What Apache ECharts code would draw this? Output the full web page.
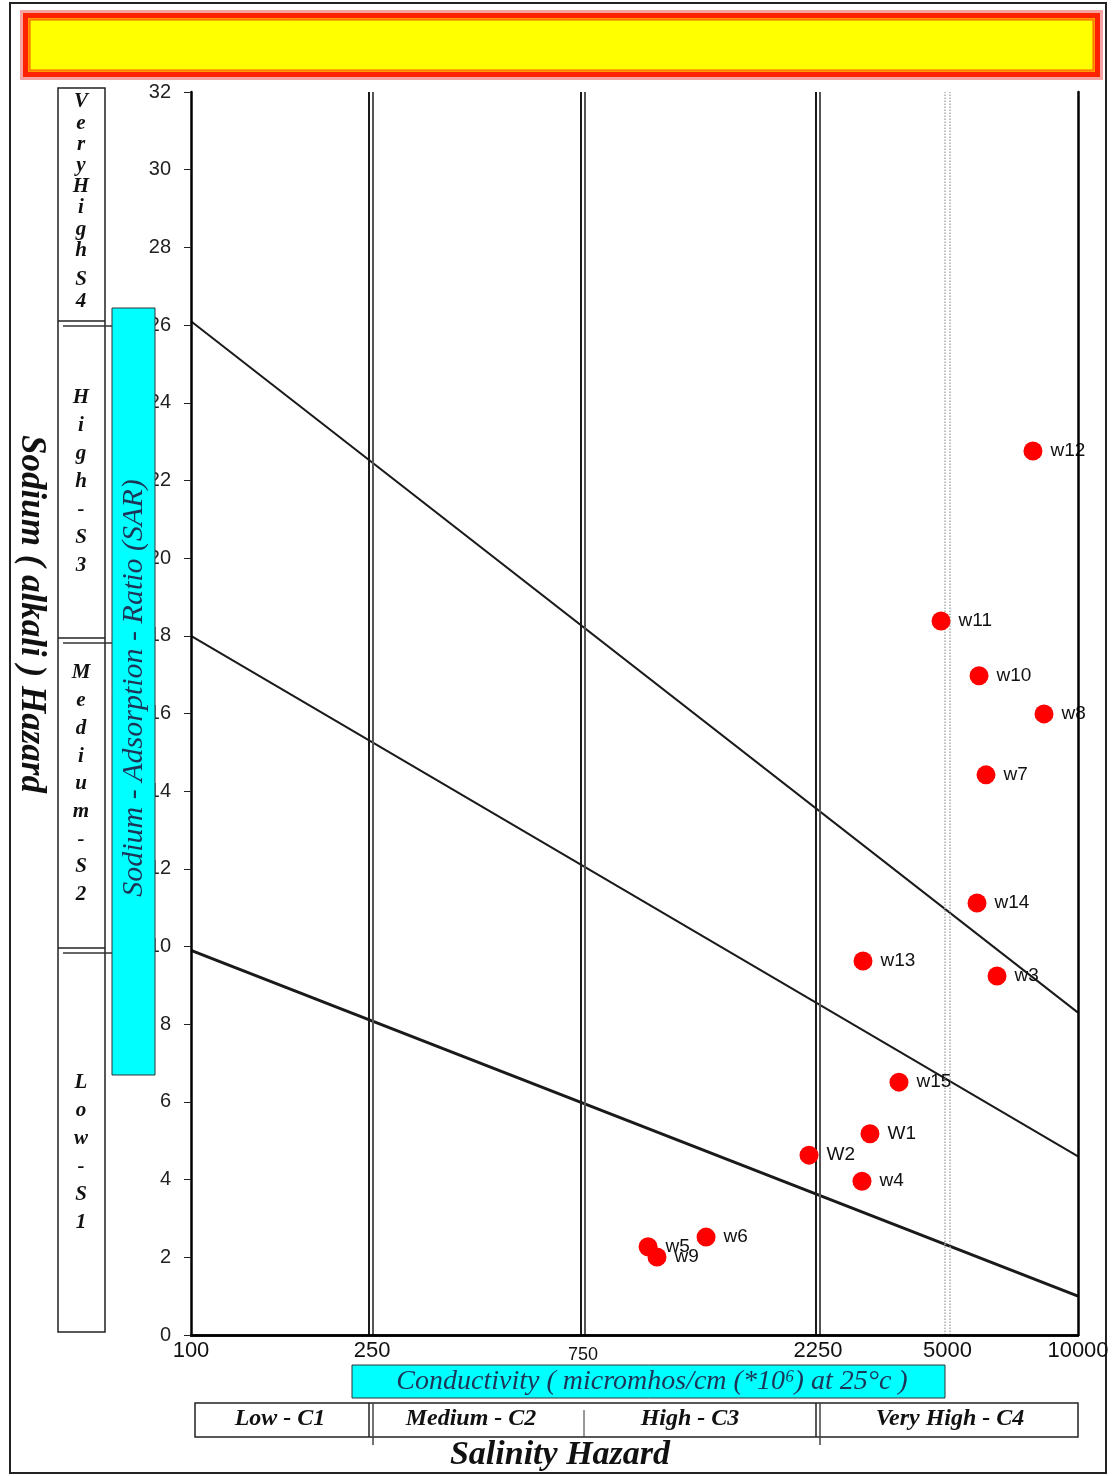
<!DOCTYPE html>
<html><head><meta charset="utf-8">
<script src="https://cdn.jsdelivr.net/npm/echarts@6/dist/echarts.min.js"></script>
<style>html,body{margin:0;padding:0;background:#fff}#c{width:1113px;height:1476px}</style>
</head><body><div id="c"></div>
<script>
// ---- data ----
const wellNames = ['w12','w11','w10','w8','w7','w14','w13','w3','w15','W1','W2','w4','w6','w5','w9'];
const ecValues  = [7915, 4911, 5982, 8382, 6202, 5920, 3275, 6568, 3948, 3396, 2475, 3258, 1450, 1073, 1124];
const sarValues = [22.76, 18.38, 16.97, 15.99, 14.42, 11.12, 9.63, 9.24, 6.51, 5.18, 4.63, 3.96, 2.52, 2.27, 2.01];
// x tick positions (as drawn) and their printed labels
const xTickValues = [100, 256, 765, 2593, 5077, 10000];
const xTickLabels = ['100', '250', '750', '2250', '5000', '10000'];
// salinity class boundaries (as drawn, each a double line)
const boundsDark = [252, 757, 2566];
const boundsLight = [257, 773, 2620];
const dottedBounds = [5013, 5145];
// sodium hazard boundary lines: SAR at EC=100 and at EC=10000
const hazardLineEC = [100, 10000];
const hazardStartSAR = [26.1, 18.0, 9.9];
const hazardEndSAR = [8.3, 4.6, 1.0];
const yMin = 0, yMax = 32, yStep = 2;

const SERIF = '"Liberation Serif","DejaVu Serif",serif';
const SANS = '"Liberation Sans",Arial,sans-serif';
const NAVY = '#1c3557';

const chart = echarts.init(document.getElementById('c'), null, {renderer: 'canvas'});

const hazardSeries = hazardStartSAR.map((s, i) => ({
  type: 'line', silent: true, symbol: 'none', z: 3,
  data: [[hazardLineEC[0], s], [hazardLineEC[1], hazardEndSAR[i]]],
  lineStyle: {color: '#1a1a1a', width: i === 2 ? 3 : 2}
}));

function vLines(vals, color, width, type) {
  return {
    type: 'line', data: [], silent: true, z: 2,
    markLine: {
      silent: true, symbol: 'none', animation: false,
      label: {show: false},
      lineStyle: {color: color, width: width, type: type || 'solid'},
      data: vals.map(v => ({xAxis: v}))
    }
  };
}

const letterBlocks = [
  {text: 'V\ne\nr\ny\nH\ni\ng\nh', first: 102, lh: 21.2},
  {text: 'S\n4', first: 280, lh: 22},
  {text: 'H\ni\ng\nh\n-\nS\n3', first: 398, lh: 28},
  {text: 'M\ne\nd\ni\nu\nm\n-\nS\n2', first: 673, lh: 27.7},
  {text: 'L\no\nw\n-\nS\n1', first: 1083, lh: 28}
];

const graphics = [
  // outer frame
  {type: 'rect', shape: {x: 10, y: 3, width: 1096, height: 1470}, style: {fill: 'none', stroke: '#222', lineWidth: 2}, z: 1},
  // header
  {type: 'rect', shape: {x: 20, y: 10, width: 1083, height: 70}, style: {fill: '#f6a3a3'}, z: 1},
  {type: 'rect', shape: {x: 23, y: 13, width: 1077, height: 64}, style: {fill: '#ff2200'}, z: 1},
  {type: 'rect', shape: {x: 28, y: 18, width: 1067, height: 54}, style: {fill: '#ff9a00'}, z: 1},
  {type: 'rect', shape: {x: 30, y: 20, width: 1063, height: 50}, style: {fill: '#ffff00', stroke: '#ff5a00', lineWidth: 1}, z: 1},
  // Sodium (alkali) Hazard
  {type: 'text', x: 31, y: 614, rotation: -Math.PI / 2, z: 5,
   style: {text: 'Sodium ( alkali ) Hazard', font: 'bold italic 35px ' + SERIF, fill: '#111', align: 'center', verticalAlign: 'middle', textAlign: 'center', textVerticalAlign: 'middle'}},
  // class column
  {type: 'rect', shape: {x: 58, y: 88, width: 47, height: 1244}, style: {fill: '#fff', stroke: '#222', lineWidth: 1.5}, z: 4},
];
[[321, 326], [638, 643], [948, 953]].forEach(p => {
  graphics.push({type: 'line', shape: {x1: 58, y1: p[0], x2: 105, y2: p[0]}, style: {stroke: '#222', lineWidth: 1.5}, z: 5});
  graphics.push({type: 'line', shape: {x1: 63, y1: p[1], x2: 112, y2: p[1]}, style: {stroke: '#333', lineWidth: 1.5}, z: 5});
});
letterBlocks.forEach(b => {
  graphics.push({type: 'text', x: 81, y: b.first - b.lh / 2, z: 6,
    style: {text: b.text, font: 'bold italic 21px ' + SERIF, fill: '#111', lineHeight: b.lh,
      align: 'center', verticalAlign: 'top', textAlign: 'center', textVerticalAlign: 'top'}});
});
// SAR cyan box
graphics.push({type: 'rect', shape: {x: 112, y: 308, width: 43, height: 767}, style: {fill: '#00ffff', stroke: '#333', lineWidth: 1}, z: 100});
graphics.push({type: 'text', x: 134, y: 688, rotation: Math.PI / 2, z: 101,
  style: {text: 'Sodium - Adsorption - Ratio (SAR)', font: 'italic 30px ' + SERIF, fill: NAVY,
    align: 'center', verticalAlign: 'middle', textAlign: 'center', textVerticalAlign: 'middle'}});
// Conductivity cyan box
graphics.push({type: 'rect', shape: {x: 352, y: 1365, width: 593, height: 33}, style: {fill: '#00ffff', stroke: '#333', lineWidth: 1}, z: 100});
graphics.push({type: 'text', x: 652, y: 1382, z: 101,
  style: {text: 'Conductivity ( micromhos/cm (*10\u2076) at 25\u00B0c )', font: 'italic 28px ' + SERIF, fill: NAVY,
    align: 'center', verticalAlign: 'middle', textAlign: 'center', textVerticalAlign: 'middle'}});
// salinity class boxes
graphics.push({type: 'rect', shape: {x: 195, y: 1403, width: 883, height: 34}, style: {fill: '#fff', stroke: '#222', lineWidth: 1.5}, z: 4});
[[369, 373], [816, 820]].forEach(p => {
  graphics.push({type: 'line', shape: {x1: p[0], y1: 1403, x2: p[0], y2: 1437}, style: {stroke: '#222', lineWidth: 1.5}, z: 5});
  graphics.push({type: 'line', shape: {x1: p[1], y1: 1403, x2: p[1], y2: 1445}, style: {stroke: '#444', lineWidth: 1.5}, z: 5});
});
graphics.push({type: 'line', shape: {x1: 584, y1: 1410, x2: 584, y2: 1437}, style: {stroke: '#333', lineWidth: 1}, z: 5});
[['Low - C1', 280], ['Medium - C2', 471], ['High - C3', 690], ['Very High - C4', 950]].forEach(t => {
  graphics.push({type: 'text', x: t[1], y: 1419, z: 6,
    style: {text: t[0], font: 'bold italic 24px ' + SERIF, fill: '#111', align: 'center', verticalAlign: 'middle', textAlign: 'center', textVerticalAlign: 'middle'}});
});
graphics.push({type: 'text', x: 560, y: 1455, z: 6,
  style: {text: 'Salinity Hazard', font: 'bold italic 34px ' + SERIF, fill: '#111', align: 'center', verticalAlign: 'middle', textAlign: 'center', textVerticalAlign: 'middle'}});

function xLabel(val) {
  let best = 0, bd = Infinity;
  xTickValues.forEach((v, i) => { const d = Math.abs(Math.log(v) - Math.log(val)); if (d < bd) { bd = d; best = i; } });
  return best === 2 ? '{s|' + xTickLabels[best] + '}' : xTickLabels[best];
}

const option = {
  animation: false,
  backgroundColor: '#fff',
  grid: {left: 191, right: 35, top: 92, bottom: 141, show: false},
  xAxis: [{
    type: 'log', logBase: 10, min: 100, max: 10000, z: 10,
    axisLine: {show: true, lineStyle: {color: '#000', width: 2.5}},
    axisTick: {show: false}, splitLine: {show: false}, minorTick: {show: false},
    axisLabel: {customValues: xTickValues, formatter: xLabel, fontSize: 22, color: '#111', fontFamily: SANS, margin: 5,
      rich: {s: {fontSize: 18, color: '#111', fontFamily: SANS, padding: [6, 0, 0, 0]}}}
  }, {
    type: 'log', logBase: 10, min: 100, max: 10000, position: 'top', z: 10,
    axisLine: {show: true, lineStyle: {color: '#000', width: 2.5}},
    axisTick: {show: false}, axisLabel: {show: false}, splitLine: {show: false}
  }],
  yAxis: [{
    type: 'value', min: yMin, max: yMax, interval: yStep, z: 10,
    axisLine: {show: true, lineStyle: {color: '#000', width: 2.5}},
    axisTick: {show: true, length: 7, lineStyle: {color: '#222', width: 1}},
    splitLine: {show: false},
    axisLabel: {fontSize: 20, color: '#222', fontFamily: SANS, margin: 20}
  }, {
    type: 'value', min: yMin, max: yMax, interval: yStep, position: 'right', z: 10,
    axisLine: {show: true, lineStyle: {color: '#000', width: 2.5}},
    axisTick: {show: false}, axisLabel: {show: false}, splitLine: {show: false}
  }],
  graphic: {elements: graphics},
  series: [
    vLines(boundsDark, '#1a1a1a', 2),
    vLines(boundsLight, '#555', 2),
    vLines(dottedBounds, '#aaa', 1.5, 'dotted'),
    ...hazardSeries,
    {
      type: 'scatter', z: 5, symbolSize: 19,
      itemStyle: {color: '#ff0000', opacity: 1},
      data: ecValues.map((v, i) => [v, sarValues[i], wellNames[i]]),
      label: {show: true, position: 'right', distance: 8, formatter: p => p.data[2],
        fontSize: 19, color: '#111', fontFamily: SANS}
    }
  ]
};
chart.setOption(option);
</script>
</body></html>
